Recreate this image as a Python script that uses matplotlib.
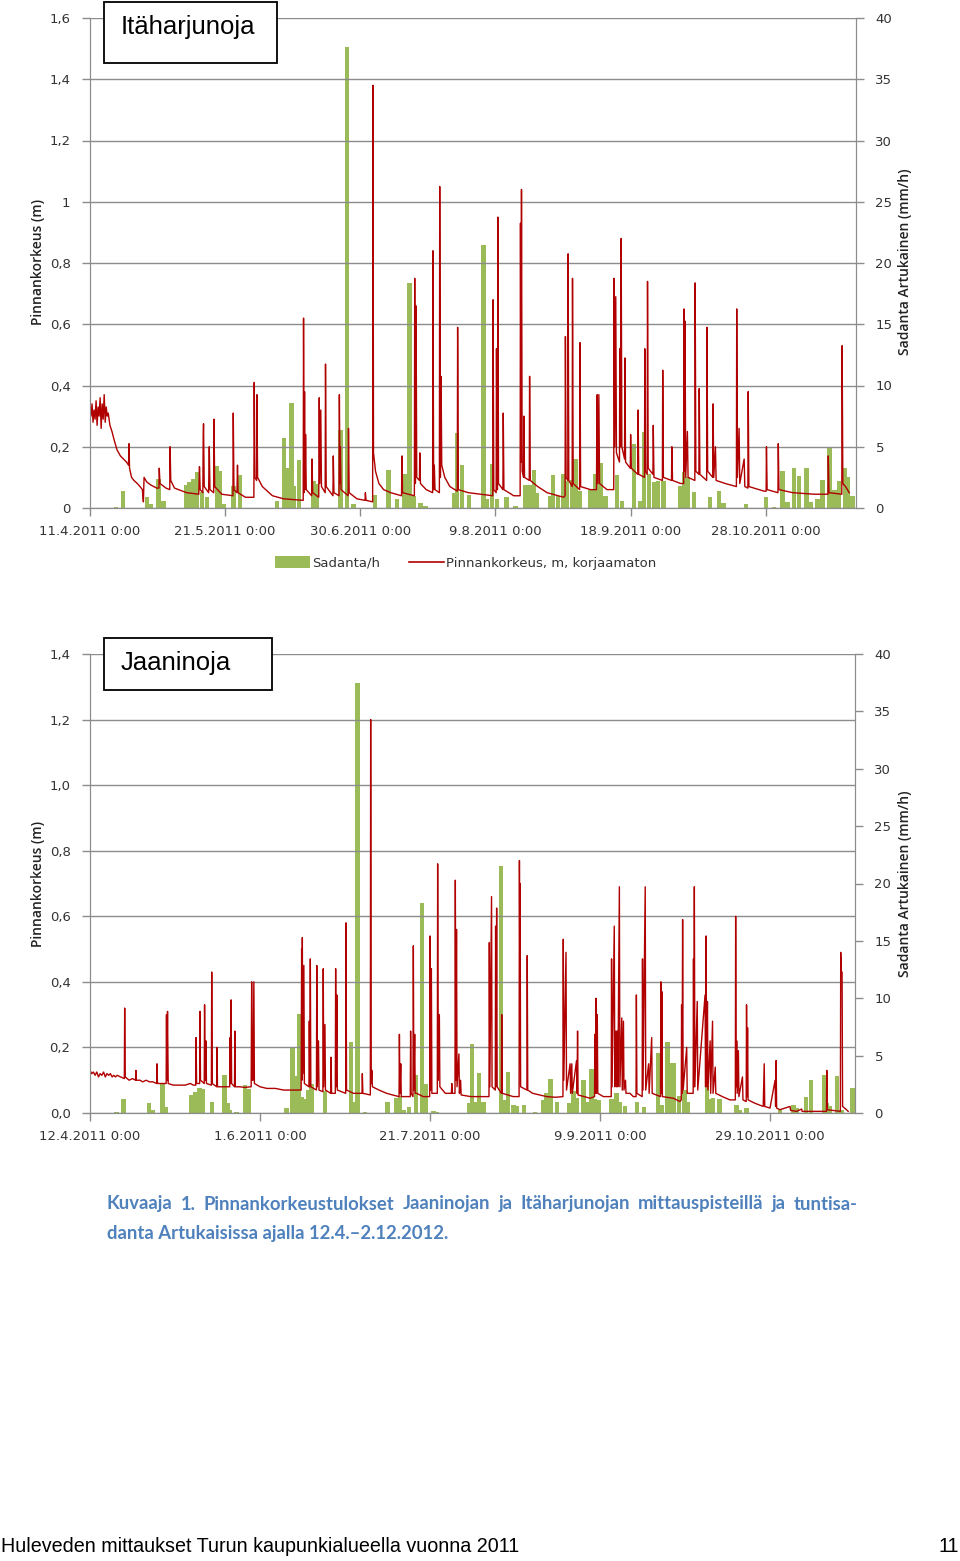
import numpy as np
import matplotlib
matplotlib.use("Agg")
import matplotlib.pyplot as plt
from matplotlib import font_manager
from matplotlib.patches import Rectangle, Patch
from matplotlib.lines import Line2D

# --- Itäharjunoja (ylempi kuva), päivät alkaen 11.4.2011 ---
ita_ticks = [0, 40, 80, 120, 160, 200]
ita_ticklabels = ["11.4.2011 0:00", "21.5.2011 0:00", "30.6.2011 0:00",
                  "9.8.2011 0:00", "18.9.2011 0:00", "28.10.2011 0:00"]
ita_yticks = [0, 0.2, 0.4, 0.6, 0.8, 1.0, 1.2, 1.4, 1.6]
ita_ylabels = ["0", "0,2", "0,4", "0,6", "0,8", "1", "1,2", "1,4", "1,6"]

ita_level = [
    (0.0, 0.33), (0.3, 0.30), (0.6, 0.34), (0.9, 0.28), (1.2, 0.32), (1.5, 0.29),
    (1.8, 0.35), (2.1, 0.27), (2.4, 0.33), (2.7, 0.30), (3.0, 0.36), (3.3, 0.26),
    (3.6, 0.34), (3.9, 0.29), (4.2, 0.37), (4.5, 0.28), (4.8, 0.33), (5.1, 0.30),
    (5.4, 0.31), (5.9, 0.27), (6.5, 0.25), (7.2, 0.22), (8.0, 0.19), (9.0, 0.17),
    (9.9, 0.16), (10.8, 0.15), (11.4, 0.14), (11.55, 0.21), (11.7, 0.13), (12.3, 0.10),
    (13.0, 0.09), (14.0, 0.08), (14.8, 0.07), (15.5, 0.06), (15.8, 0.02), (16.0, 0.10),
    (16.8, 0.085), (18.0, 0.075), (19.75, 0.065), (20.4, 0.065), (20.5, 0.13), (20.7, 0.08),
    (22.5, 0.065), (23.6, 0.06), (23.7, 0.20), (23.9, 0.09), (25.0, 0.065), (28.6, 0.05),
    (32.2, 0.045), (32.4, 0.135), (32.6, 0.06), (33.4, 0.05), (33.5, 0.23), (33.6, 0.275),
    (33.8, 0.07), (35.1, 0.05), (35.3, 0.20), (35.5, 0.06), (36.6, 0.05), (36.7, 0.29),
    (36.9, 0.07), (39.0, 0.045), (42.3, 0.04), (42.4, 0.31), (42.6, 0.06), (43.5, 0.05),
    (43.65, 0.14), (43.8, 0.05), (46.0, 0.035), (48.5, 0.035), (48.6, 0.41), (48.8, 0.10),
    (49.3, 0.09), (49.4, 0.37), (49.6, 0.10), (51.0, 0.07), (54.0, 0.04), (57.3, 0.03),
    (63.1, 0.025), (63.2, 0.62), (63.35, 0.05), (63.5, 0.38), (63.65, 0.06), (63.8, 0.24),
    (64.0, 0.06), (65.6, 0.04), (65.7, 0.16), (65.9, 0.05), (67.7, 0.035), (67.85, 0.36),
    (68.0, 0.08), (68.3, 0.32), (68.5, 0.07), (69.6, 0.05), (69.7, 0.47), (69.9, 0.07),
    (71.9, 0.04), (72.0, 0.17), (72.2, 0.05), (73.7, 0.04), (73.8, 0.37), (74.0, 0.08),
    (74.1, 0.20), (74.3, 0.06), (76.4, 0.04), (76.5, 0.26), (76.7, 0.05), (79.0, 0.03),
    (81.4, 0.025), (81.5, 0.05), (81.7, 0.025), (83.65, 0.02), (83.75, 1.38), (83.9, 0.18),
    (84.5, 0.12), (85.5, 0.08), (86.9, 0.06), (89.0, 0.05), (92.2, 0.04), (92.35, 0.17),
    (92.5, 0.05), (96.0, 0.04), (96.1, 0.75), (96.3, 0.08), (96.5, 0.66), (96.7, 0.10),
    (97.5, 0.09), (97.6, 0.18), (97.8, 0.08), (99.5, 0.06), (101.4, 0.05), (101.5, 0.84),
    (101.7, 0.06), (101.9, 0.14), (102.1, 0.06), (103.4, 0.05), (103.5, 1.05), (103.7, 0.10),
    (103.9, 0.43), (104.1, 0.14), (105.0, 0.10), (106.5, 0.07), (108.7, 0.055), (108.8, 0.59),
    (109.0, 0.06), (112.0, 0.05), (115.6, 0.045), (117.5, 0.042), (119.2, 0.04), (119.3, 0.68),
    (119.5, 0.06), (120.2, 0.05), (120.3, 0.52), (120.5, 0.06), (120.6, 0.06), (120.7, 0.95),
    (120.9, 0.08), (122.2, 0.06), (122.3, 0.31), (122.5, 0.06), (125.4, 0.04), (127.3, 0.04),
    (127.4, 0.93), (127.55, 0.15), (127.7, 1.04), (127.9, 0.12), (128.3, 0.10), (128.4, 0.30),
    (128.6, 0.10), (130.0, 0.09), (130.1, 0.43), (130.3, 0.09), (132.5, 0.07), (135.3, 0.05),
    (140.2, 0.035), (140.6, 0.04), (140.7, 0.56), (140.9, 0.10), (141.4, 0.09), (141.5, 0.83),
    (141.7, 0.09), (142.7, 0.07), (142.8, 0.75), (143.0, 0.08), (144.9, 0.06), (145.0, 0.54),
    (145.2, 0.07), (148.1, 0.06), (149.9, 0.06), (150.0, 0.33), (150.1, 0.37), (150.3, 0.08),
    (150.6, 0.37), (150.8, 0.08), (153.0, 0.06), (155.0, 0.06), (155.1, 0.75), (155.3, 0.20),
    (155.6, 0.69), (155.8, 0.18), (156.7, 0.15), (156.8, 0.52), (157.0, 0.20), (157.2, 0.88),
    (157.4, 0.20), (158.2, 0.16), (158.3, 0.49), (158.5, 0.15), (159.9, 0.13), (160.0, 0.24),
    (160.2, 0.13), (162.1, 0.11), (162.2, 0.32), (162.4, 0.11), (164.1, 0.10), (164.2, 0.52),
    (164.4, 0.12), (164.9, 0.11), (165.0, 0.74), (165.2, 0.13), (166.6, 0.11), (166.7, 0.27),
    (166.9, 0.10), (169.4, 0.09), (169.5, 0.45), (169.7, 0.10), (172.1, 0.09), (172.2, 0.20),
    (172.4, 0.09), (174.8, 0.08), (175.7, 0.08), (175.8, 0.65), (176.0, 0.12), (176.1, 0.61),
    (176.3, 0.10), (176.8, 0.25), (177.0, 0.10), (179.0, 0.09), (179.1, 0.735), (179.3, 0.12),
    (180.2, 0.11), (180.3, 0.39), (180.5, 0.11), (182.5, 0.09), (182.6, 0.59), (182.8, 0.12),
    (184.3, 0.10), (184.4, 0.34), (184.6, 0.10), (185.1, 0.20), (185.3, 0.09), (188.0, 0.08),
    (191.3, 0.07), (191.4, 0.65), (191.6, 0.10), (192.1, 0.26), (192.3, 0.08), (193.6, 0.16),
    (193.8, 0.07), (194.7, 0.065), (194.8, 0.38), (195.0, 0.07), (199.5, 0.055), (200.1, 0.055),
    (200.2, 0.20), (200.4, 0.06), (203.6, 0.05), (203.7, 0.21), (203.9, 0.06), (208.0, 0.05),
    (214.3, 0.045), (218.4, 0.045), (218.5, 0.17), (218.7, 0.05), (222.5, 0.045), (222.6, 0.53),
    (222.8, 0.08), (223.6, 0.07), (224.7, 0.05),
]

ita_rain = [
    (7.7, 0.1), (9.7, 1.4), (16.8, 0.9), (18.1, 0.3), (20.3, 2.4), (21.7, 0.6),
    (28.4, 1.9), (29.4, 2.1), (30.4, 2.4), (31.6, 2.9), (33.1, 1.3), (34.6, 0.9),
    (37.5, 3.4), (38.5, 3.0), (39.7, 0.3), (42.5, 1.8), (44.4, 2.7), (55.3, 0.6),
    (57.5, 5.7), (58.5, 3.3), (59.6, 8.6), (60.4, 1.8), (61.8, 3.9), (66.2, 2.2),
    (67.2, 2.0), (74.1, 6.4), (76.0, 37.6), (78.0, 0.3), (84.4, 1.1), (88.4, 3.1),
    (90.9, 0.7), (93.1, 2.8), (94.6, 18.4), (95.8, 1.0), (97.8, 0.4), (99.3, 0.2),
    (107.7, 1.2), (108.6, 6.1), (110.1, 3.5), (112.1, 1.1), (116.5, 21.5), (117.5, 0.7),
    (119.0, 3.6), (120.5, 0.7), (123.3, 0.9), (125.9, 0.2), (128.9, 1.9), (130.4, 1.9),
    (131.4, 3.1), (132.3, 1.2), (136.3, 1.0), (137.1, 2.7), (138.5, 1.0), (140.1, 2.8),
    (141.2, 2.2), (142.7, 2.3), (143.7, 4.0), (145.0, 1.4), (148.1, 1.5), (149.6, 2.8),
    (151.1, 3.7), (152.6, 1.0), (155.9, 2.7), (157.5, 0.6), (161.0, 5.2), (162.8, 0.6),
    (164.0, 6.2), (165.4, 2.8), (166.9, 2.1), (168.1, 2.2), (169.7, 2.2), (174.8, 1.8),
    (175.8, 2.9), (176.8, 2.5), (178.8, 1.3), (183.5, 0.9), (186.2, 1.4), (187.5, 0.4),
    (194.1, 0.3), (200.0, 0.9), (202.5, 0.1), (205.0, 3.0), (206.4, 0.5), (208.4, 3.3),
    (209.9, 2.6), (212.1, 3.3), (213.3, 0.5), (215.3, 0.7), (216.8, 2.3), (218.8, 4.9),
    (220.3, 1.5), (221.7, 2.2), (223.4, 3.3), (224.4, 2.5), (225.7, 1.0),
]

# --- Jaaninoja (alempi kuva), päivät alkaen 12.4.2011 ---
jaa_ticks = [0, 50, 100, 150, 200]
jaa_ticklabels = ["12.4.2011 0:00", "1.6.2011 0:00", "21.7.2011 0:00",
                  "9.9.2011 0:00", "29.10.2011 0:00"]
jaa_yticks = [0, 0.2, 0.4, 0.6, 0.8, 1.0, 1.2, 1.4]
jaa_ylabels = ["0,0", "0,2", "0,4", "0,6", "0,8", "1,0", "1,2", "1,4"]

jaa_level = [
    (0.0, 0.13), (0.5, 0.12), (1.0, 0.125), (1.5, 0.115), (2.0, 0.125), (2.5, 0.11),
    (3.0, 0.12), (3.5, 0.115), (4.0, 0.125), (4.5, 0.11), (5.0, 0.12), (5.5, 0.115),
    (6.0, 0.12), (6.5, 0.11), (7.0, 0.115), (7.5, 0.11), (8.0, 0.115), (9.0, 0.11),
    (10.1, 0.105), (10.2, 0.32), (10.35, 0.11), (11.5, 0.10), (12.5, 0.105), (13.4, 0.10),
    (13.5, 0.13), (13.65, 0.10), (14.7, 0.10), (15.5, 0.095), (16.5, 0.10), (17.5, 0.095),
    (18.5, 0.095), (19.6, 0.09), (19.7, 0.15), (19.85, 0.09), (21.0, 0.09), (22.4, 0.09),
    (22.5, 0.30), (22.6, 0.10), (22.8, 0.31), (23.0, 0.09), (24.5, 0.085), (26.5, 0.085),
    (28.0, 0.085), (29.5, 0.09), (30.4, 0.085), (31.1, 0.085), (31.2, 0.23), (31.35, 0.09),
    (32.25, 0.09), (32.35, 0.31), (32.5, 0.10), (33.6, 0.09), (33.7, 0.33), (33.85, 0.10),
    (34.1, 0.22), (34.25, 0.09), (35.7, 0.085), (35.8, 0.43), (35.95, 0.09), (37.25, 0.08),
    (37.35, 0.20), (37.5, 0.08), (39.0, 0.08), (41.1, 0.08), (41.2, 0.23), (41.35, 0.09),
    (41.5, 0.345), (41.65, 0.09), (42.5, 0.08), (42.6, 0.25), (42.75, 0.08), (44.0, 0.08),
    (45.5, 0.078), (47.4, 0.08), (47.55, 0.40), (47.65, 0.10), (47.75, 0.23), (47.9, 0.10),
    (48.2, 0.40), (48.35, 0.09), (50.0, 0.08), (52.0, 0.075), (54.5, 0.075), (56.9, 0.07),
    (59.8, 0.07), (62.1, 0.07), (62.25, 0.50), (62.35, 0.10), (62.45, 0.535), (62.6, 0.12),
    (62.9, 0.45), (63.05, 0.09), (64.4, 0.08), (64.5, 0.28), (64.65, 0.08), (64.8, 0.47),
    (64.95, 0.08), (66.6, 0.07), (66.7, 0.45), (66.85, 0.08), (67.2, 0.22), (67.35, 0.07),
    (68.5, 0.065), (68.6, 0.44), (68.75, 0.08), (69.1, 0.27), (69.25, 0.07), (70.8, 0.06),
    (70.9, 0.17), (71.05, 0.06), (72.15, 0.06), (72.25, 0.44), (72.4, 0.08), (72.6, 0.36),
    (72.75, 0.07), (75.2, 0.06), (75.3, 0.58), (75.45, 0.07), (77.5, 0.06), (80.0, 0.06),
    (80.1, 0.12), (80.25, 0.06), (82.45, 0.055), (82.55, 1.20), (82.7, 0.09), (82.9, 0.13),
    (83.05, 0.08), (85.0, 0.07), (87.25, 0.06), (89.0, 0.055), (90.9, 0.05), (91.0, 0.24),
    (91.15, 0.06), (91.4, 0.15), (91.55, 0.05), (94.2, 0.05), (94.3, 0.25), (94.45, 0.06),
    (95.0, 0.05), (95.1, 0.51), (95.25, 0.07), (95.5, 0.24), (95.65, 0.06), (96.1, 0.06),
    (98.0, 0.05), (99.9, 0.05), (100.0, 0.54), (100.15, 0.07), (100.4, 0.44), (100.55, 0.06),
    (102.15, 0.06), (102.25, 0.76), (102.4, 0.10), (102.75, 0.30), (102.9, 0.08), (104.5, 0.06),
    (106.3, 0.06), (106.4, 0.09), (106.55, 0.06), (107.35, 0.06), (107.45, 0.71), (107.6, 0.10),
    (107.8, 0.56), (107.95, 0.08), (108.5, 0.18), (108.65, 0.06), (109.0, 0.10), (109.15, 0.055),
    (112.0, 0.05), (114.7, 0.05), (117.35, 0.05), (117.45, 0.52), (117.6, 0.08), (118.1, 0.66),
    (118.25, 0.08), (119.2, 0.07), (119.3, 0.57), (119.45, 0.08), (119.6, 0.625), (119.75, 0.08),
    (121.0, 0.06), (121.1, 0.30), (121.25, 0.06), (124.5, 0.05), (126.2, 0.05), (126.3, 0.77),
    (126.45, 0.30), (126.5, 0.70), (126.65, 0.08), (128.5, 0.07), (128.6, 0.48), (128.75, 0.07),
    (130.2, 0.06), (134.3, 0.05), (137.0, 0.048), (139.1, 0.05), (139.2, 0.53), (139.35, 0.10),
    (140.0, 0.49), (140.15, 0.07), (141.2, 0.15), (141.35, 0.06), (141.7, 0.15), (141.85, 0.06),
    (143.1, 0.16), (143.25, 0.06), (143.4, 0.25), (143.55, 0.055), (147.1, 0.045), (148.4, 0.05),
    (148.5, 0.24), (148.65, 0.06), (148.8, 0.35), (148.95, 0.06), (149.2, 0.30), (149.35, 0.06),
    (151.0, 0.05), (153.3, 0.05), (153.4, 0.47), (153.55, 0.08), (154.2, 0.57), (154.35, 0.08),
    (154.7, 0.25), (154.85, 0.08), (155.1, 0.25), (155.25, 0.08), (155.7, 0.69), (155.85, 0.08),
    (156.4, 0.29), (156.55, 0.07), (156.9, 0.28), (157.05, 0.07), (157.5, 0.10), (157.65, 0.06),
    (158.8, 0.06), (159.8, 0.05), (160.6, 0.05), (160.7, 0.36), (160.85, 0.06), (162.4, 0.05),
    (162.5, 0.47), (162.65, 0.07), (163.3, 0.69), (163.45, 0.07), (164.3, 0.15), (164.45, 0.06),
    (165.2, 0.23), (165.35, 0.06), (167.8, 0.05), (167.9, 0.40), (168.05, 0.06), (168.2, 0.37),
    (168.35, 0.05), (171.6, 0.045), (173.5, 0.035), (173.9, 0.04), (174.0, 0.33), (174.15, 0.06),
    (174.3, 0.59), (174.45, 0.07), (175.5, 0.20), (175.65, 0.06), (177.4, 0.06), (177.5, 0.47),
    (177.6, 0.08), (177.75, 0.69), (177.9, 0.08), (178.6, 0.34), (178.75, 0.07), (180.9, 0.36),
    (181.05, 0.08), (181.2, 0.54), (181.35, 0.08), (181.6, 0.34), (181.75, 0.07), (182.4, 0.22),
    (182.55, 0.06), (183.1, 0.28), (183.25, 0.06), (183.9, 0.14), (184.05, 0.06), (186.0, 0.05),
    (188.2, 0.04), (189.8, 0.04), (189.9, 0.60), (190.05, 0.08), (190.2, 0.22), (190.35, 0.06),
    (190.7, 0.19), (190.85, 0.05), (191.9, 0.11), (192.05, 0.04), (193.0, 0.035), (193.1, 0.33),
    (193.25, 0.05), (193.4, 0.26), (193.55, 0.04), (195.5, 0.03), (198.0, 0.02), (198.3, 0.15),
    (198.45, 0.02), (200.0, 0.015), (201.5, 0.10), (201.65, 0.02), (201.8, 0.16), (201.95, 0.015),
    (202.9, 0.01), (205.9, 0.02), (206.05, 0.008), (207.8, 0.005), (209.3, 0.012), (209.45, 0.005),
    (212.7, 0.005), (216.6, 0.005), (216.7, 0.13), (216.85, 0.01), (220.7, 0.005), (220.8, 0.49),
    (220.95, 0.43), (221.2, 0.43), (221.35, 0.02), (222.5, 0.01), (223.0, 0.005),
]

jaa_rain = [
    (7.8, 0.1), (9.8, 1.25), (17.4, 0.9), (18.4, 0.3), (21.3, 2.5), (22.3, 0.5),
    (29.9, 1.6), (30.9, 1.8), (32.2, 2.2), (33.3, 2.1), (35.8, 1.0), (39.5, 3.3),
    (40.5, 0.9), (41.2, 0.3), (43.1, 0.1), (45.6, 2.4), (46.6, 2.1), (57.8, 0.4),
    (59.6, 5.7), (60.6, 3.2), (61.5, 8.6), (62.3, 1.4), (63.5, 1.2), (64.2, 2.0),
    (65.2, 2.5), (69.1, 1.9), (76.8, 6.2), (77.5, 1.0), (78.7, 37.5), (80.9, 0.1),
    (87.5, 1.0), (90.2, 1.3), (91.2, 1.5), (92.2, 0.3), (93.9, 0.5), (95.9, 3.3),
    (97.6, 18.3), (98.8, 2.5), (101.0, 0.2), (102.0, 0.1), (111.5, 0.9), (112.3, 6.0),
    (113.2, 1.0), (114.4, 3.5), (115.7, 1.0), (120.9, 21.5), (121.6, 1.1), (123.0, 3.6),
    (124.5, 0.7), (125.5, 0.6), (127.7, 0.7), (130.9, 0.1), (133.3, 1.1), (134.3, 1.7),
    (135.5, 3.0), (137.3, 1.0), (141.0, 0.9), (142.2, 1.9), (143.1, 1.3), (145.1, 2.9),
    (146.4, 1.0), (147.5, 3.8), (148.5, 1.2), (149.5, 1.1), (153.4, 1.2), (154.9, 1.7),
    (155.9, 1.0), (157.4, 0.6), (160.8, 1.0), (163.0, 0.5), (167.1, 5.2), (168.1, 0.7),
    (169.8, 6.2), (170.8, 4.4), (171.8, 4.4), (173.3, 1.5), (174.8, 2.0), (175.7, 1.0),
    (181.4, 2.4), (182.4, 1.2), (183.3, 1.3), (185.1, 1.2), (190.2, 0.7), (191.2, 0.3),
    (193.1, 0.4), (202.9, 0.3), (206.9, 0.7), (207.8, 0.4), (210.6, 1.4), (212.1, 2.9),
    (215.9, 3.3), (216.7, 0.9), (217.6, 0.6), (219.7, 3.25), (221.0, 0.3), (224.3, 2.2),
]

rain_ticks = [0, 5, 10, 15, 20, 25, 30, 35, 40]

caption1 = ("Kuvaaja 1. Pinnankorkeustulokset Jaaninojan ja Itäharjunojan "
            "mittauspisteillä ja tuntisa-")
caption2 = "danta Artukaisissa ajalla 12.4.–2.12.2012."
footer = "Huleveden mittaukset Turun kaupunkialueella vuonna 2011"

GREEN = "#9bbb59"
RED = "#b00000"
GRID = "#8c8c8c"
TXT = "#333333"
W, H = 960, 1561


def fx(px):
    return px / W


def fy(py):
    return 1 - py / H


def draw_panel(fig, rect, level, rain, xmax, ymax, yticks, ylabels, xticks, xlabels):
    ax = fig.add_axes(rect)
    axr = ax.twinx()
    ax.set_zorder(2)
    ax.patch.set_visible(False)
    axr.set_zorder(1)

    rd, rv = np.array(rain).T
    axr.bar(rd, rv, width=1.3, color=GREEN, linewidth=0)
    ld, lv = np.array(level).T
    ax.plot(ld, lv, color=RED, lw=1.0)

    ax.set_xlim(0, xmax)
    ax.set_ylim(0, ymax)
    axr.set_ylim(0, 40)
    ax.set_yticks(yticks)
    ax.set_yticklabels(ylabels)
    axr.set_yticks(rain_ticks)
    ax.set_xticks(xticks)
    ax.set_xticklabels(xlabels)
    ax.yaxis.grid(True, color=GRID, lw=1.0)

    for a in (ax, axr):
        a.spines["top"].set_visible(False)
        for s in ("left", "right", "bottom"):
            a.spines[s].set_color(GRID)
        a.tick_params(colors=GRID, labelcolor=TXT, labelsize=9.5, length=6, width=1)
    ax.tick_params(axis="y", pad=8)
    axr.tick_params(axis="y", pad=8)
    ax.tick_params(axis="x", pad=6)
    return ax, axr


fig = plt.figure(figsize=(W / 100, H / 100), dpi=100)

# ylempi: Itäharjunoja
draw_panel(fig, [fx(90), fy(508), fx(766), (508 - 18) / H], ita_level, ita_rain,
           226.7, 1.6, ita_yticks, ita_ylabels, ita_ticks, ita_ticklabels)
# alempi: Jaaninoja
draw_panel(fig, [fx(90), fy(1113), fx(765), (1113 - 654) / H], jaa_level, jaa_rain,
           225.0, 1.4, jaa_yticks, jaa_ylabels, jaa_ticks, jaa_ticklabels)

# otsikkolaatikot
fig.add_artist(Rectangle((fx(104), fy(63)), fx(173), 61 / H, transform=fig.transFigure,
                         facecolor="white", edgecolor="black", lw=1.3, zorder=5))
fig.text(fx(121), fy(27), "Itäharjunoja", fontsize=18.5, family="Liberation Sans",
         va="center", zorder=6)
fig.add_artist(Rectangle((fx(104), fy(690)), fx(168), 52 / H, transform=fig.transFigure,
                         facecolor="white", edgecolor="black", lw=1.3, zorder=5))
fig.text(fx(121), fy(663), "Jaaninoja", fontsize=18.5, family="Liberation Sans",
         va="center", zorder=6)

# akselien nimet
for yc in (262, 884):
    fig.text(fx(38), fy(yc), "Pinnankorkeus (m)", rotation=90, ha="center", va="center",
             fontsize=10, color="#222222", family="Open Sans", fontweight="semibold")
    fig.text(fx(905), fy(yc), "Sadanta Artukainen (mm/h)", rotation=90, ha="center",
             va="center", fontsize=10, color="#222222", family="Open Sans",
             fontweight="semibold")

# selite
handles = [Patch(facecolor=GREEN, edgecolor="none"), Line2D([], [], color=RED, lw=1.2)]
fig.legend(handles, ["Sadanta/h", "Pinnankorkeus, m, korjaamaton"], ncol=2,
           loc="center", bbox_to_anchor=(fx(466), fy(563)), frameon=False,
           fontsize=9.5, labelcolor=TXT, handlelength=2.6, handleheight=1.0,
           handletextpad=0.2, columnspacing=2.2)

# kuvateksti, ensimmäinen rivi tasattu molempiin reunoihin
cap_kw = dict(fontsize=13.3, family="Lato", fontweight="bold", color="#4f81bd", va="center")
renderer = fig.canvas.get_renderer()
words = caption1.split(" ")
texts = [fig.text(0, fy(1204), w, **cap_kw) for w in words]
widths = [t.get_window_extent(renderer).width for t in texts]
gap = (858 - 107 - sum(widths)) / (len(words) - 1)
xpos = 107
for t, wd in zip(texts, widths):
    t.set_x(fx(xpos))
    xpos += wd + gap
fig.text(fx(107), fy(1234), caption2, **cap_kw)

# alatunniste
names = {f.name for f in font_manager.fontManager.ttflist}
if "Liberation Sans Narrow" in names:
    foot_kw = dict(family="Liberation Sans Narrow", fontsize=17)
else:
    foot_kw = dict(family="Liberation Sans", fontsize=14.2)
fig.text(fx(1), fy(1546), footer, va="center", **foot_kw)
fig.text(fx(959), fy(1546), "11", va="center", ha="right", **foot_kw)

fig.savefig("out.png", dpi=100)
